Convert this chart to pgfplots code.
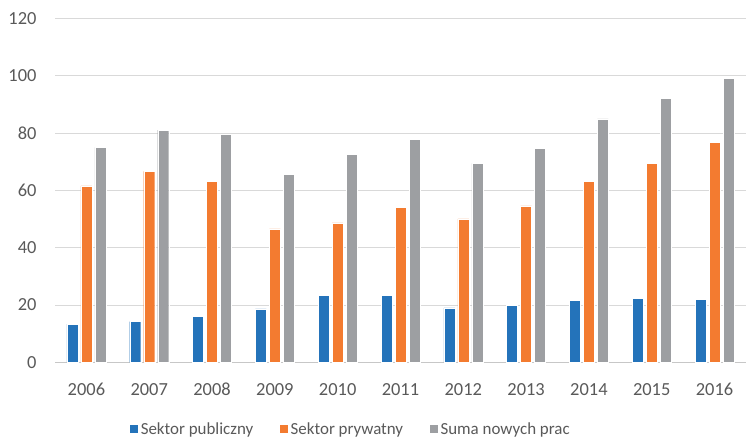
\documentclass[border=0pt]{standalone}
\usepackage{pgfplots}
\pgfplotsset{compat=1.18}
\usepackage{fontspec}
\setmainfont{Carlito}
\definecolor{cblue}{HTML}{2473BA}
\definecolor{corange}{HTML}{F37B30}
\definecolor{cgray}{HTML}{9D9FA2}
\definecolor{ctext}{HTML}{595959}
\definecolor{cgrid}{HTML}{D9D9D9}
\begin{document}
\begin{tikzpicture}[x=1bp,y=1bp]
\begin{axis}[
  scale only axis,
  width=691bp, height=343.6bp,
  at={(0,0)}, anchor=south west,
  ybar, bar width=11bp,
  ymin=0, ymax=120, ytick={0,20,...,120},
  xmin=2005.5, xmax=2016.5,
  xtick={2006,...,2016},
  xticklabels={2006,2007,2008,2009,2010,2011,2012,2013,2014,2015,2016},
  ymajorgrids, grid style={cgrid, line width=1pt},
  axis x line*=bottom, axis y line*=left,
  y axis line style={draw=none},
  x axis line style={cgrid!80!gray, line width=1.2pt},
  xtick style={draw=none},
  ytick style={draw=none},
  tick label style={font=\fontsize{18.5}{21}\selectfont, text=ctext},
  /pgf/number format/assume math mode=true,
  yticklabel style={anchor=east, xshift=-15bp},
  xticklabel style={yshift=-13bp},
  legend style={draw=none, at={(0.4277,-0.194)}, anchor=center, legend columns=-1,
    font=\fontsize{17}{20}\selectfont, text=ctext,
    /tikz/every even column/.append style={column sep=24bp}},
  legend image code/.code={\fill[#1] (0bp,-4.5bp) rectangle (9bp,4.5bp);},
]
\addplot[fill=cblue, draw=white, line width=0.4pt, bar shift=-14bp] coordinates {
(2006,13.3) (2007,14.2) (2008,16.1) (2009,18.7) (2010,23.5) (2011,23.4)
(2012,19.0) (2013,19.9) (2014,21.7) (2015,22.4) (2016,22.0)};
\addlegendentry{Sektor publiczny}
\addplot[fill=corange, draw=white, line width=0.4pt, bar shift=0bp] coordinates {
(2006,61.6) (2007,66.7) (2008,63.1) (2009,46.6) (2010,48.7) (2011,54.2)
(2012,50.1) (2013,54.6) (2014,63.1) (2015,69.4) (2016,76.8)};
\addlegendentry{Sektor prywatny}
\addplot[fill=cgray, draw=white, line width=0.4pt, bar shift=14bp] coordinates {
(2006,75.1) (2007,81.1) (2008,79.5) (2009,65.7) (2010,72.6) (2011,77.9)
(2012,69.5) (2013,74.7) (2014,85.0) (2015,92.1) (2016,99.1)};
\addlegendentry{Suma nowych prac}
\end{axis}
\pgfresetboundingbox
\path[use as bounding box] (-55bp,-77.7bp) rectangle (691bp,362.3bp);
\end{tikzpicture}
\end{document}
